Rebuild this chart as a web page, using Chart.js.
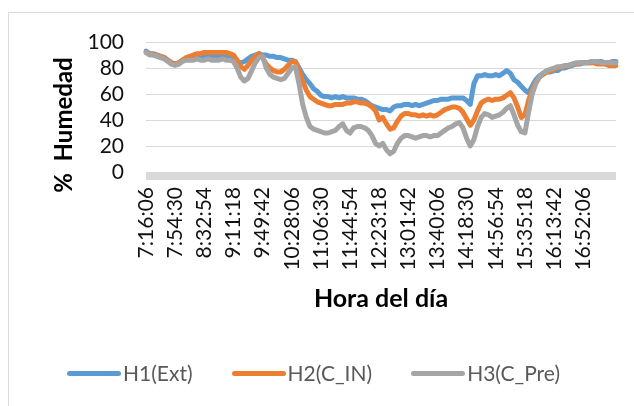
<!DOCTYPE html>
<html lang="es">
<head>
<meta charset="utf-8">
<title>Humedad relativa</title>
<script src="https://cdn.jsdelivr.net/npm/chart.js@4.4.1/dist/chart.umd.min.js"></script>
<style>
  html, body { margin: 0; padding: 0; background: #fff; }
  #wrap { position: relative; width: 634px; height: 406px; overflow: hidden; }
  #frame { position: absolute; left: 8px; top: 12px; width: 700px; height: 500px; border: 1px solid #dcdcdc; }
  #humChart { position: absolute; left: 0; top: 0; }
  #legend { position: absolute; left: 67px; top: 360px; display: flex; gap: 39px;
            font-family: Lato, sans-serif; font-size: 21px; color: #595959; line-height: 26px; }
  .item { display: flex; align-items: center; }
  .swatch { width: 54px; height: 5px; border-radius: 3px; margin-right: 2px; }
</style>
</head>
<body>
<div id="wrap">
  <div id="frame"></div>
  <canvas id="humChart" width="634" height="406"></canvas>
  <div id="legend"></div>
</div>
<script>
// Etiquetas visibles del eje X (cada 38:24)
const tickLabels = ['7:16:06', '7:54:30', '8:32:54', '9:11:18', '9:49:42', '10:28:06', '11:06:30', '11:44:54',
  '12:23:18', '13:01:42', '13:40:06', '14:18:30', '14:56:54', '15:35:18', '16:13:42', '16:52:06'];
const sampleStep = 288; // segundos entre lecturas

const seriesNames = ['H1(Ext)', 'H2(C_IN)', 'H3(C_Pre)'];
const seriesColors = ['#5B9BD5', '#ED7D31', '#A5A5A5'];

// % humedad, sensor exterior
const h1Ext = [93, 91, 91, 90, 89, 88, 86, 84, 83, 84, 86, 87, 88, 88, 89, 89, 89, 88, 89, 88,
  89, 88, 88, 88, 87, 85, 84, 85, 87, 89, 90, 91, 90, 90, 89, 89, 88, 88, 87, 86,
  86, 85, 80, 75, 71, 68, 64, 62, 59, 58, 58, 57, 58, 57, 58, 57, 57, 57, 56, 56,
  55, 53, 51, 50, 49, 48, 48, 47, 50, 51, 51, 52, 52, 51, 52, 51, 52, 53, 54, 55,
  55, 56, 56, 56, 57, 57, 57, 57, 55, 52, 68, 74, 74, 75, 74, 74, 75, 74, 76, 78,
  76, 71, 69, 66, 63, 61, 66, 71, 74, 76, 77, 77, 78, 78, 80, 80, 81, 82, 83, 83,
  84, 84, 84, 85, 85, 85, 84, 84, 85, 85];

// % humedad, cámara interior
const h2CIn = [92, 91, 90, 90, 89, 88, 86, 84, 83, 84, 86, 88, 89, 90, 91, 91, 92, 92, 92, 92,
  92, 92, 92, 91, 90, 86, 81, 79, 82, 86, 89, 91, 88, 83, 80, 78, 77, 77, 79, 82,
  85, 85, 78, 70, 63, 58, 56, 54, 53, 52, 51, 51, 52, 52, 52, 53, 53, 54, 54, 53,
  53, 52, 50, 47, 40, 42, 37, 33, 34, 39, 43, 45, 45, 44, 44, 43, 44, 43, 44, 43,
  44, 46, 48, 49, 50, 50, 49, 46, 41, 36, 40, 47, 53, 55, 56, 55, 56, 56, 57, 59,
  61, 57, 50, 42, 44, 55, 63, 69, 73, 75, 77, 78, 79, 80, 81, 81, 82, 83, 83, 84,
  84, 84, 84, 84, 83, 83, 83, 82, 82, 82];

// % humedad, cámara de preenfriado
const h3CPre = [92, 90, 90, 89, 88, 87, 85, 83, 82, 83, 85, 86, 86, 86, 87, 86, 86, 87, 86, 86,
  86, 87, 86, 86, 85, 80, 73, 70, 72, 78, 84, 88, 89, 80, 75, 73, 72, 71, 72, 76,
  80, 81, 68, 52, 42, 35, 33, 32, 31, 30, 30, 31, 32, 35, 37, 32, 30, 34, 35, 35,
  34, 32, 28, 22, 20, 22, 17, 14, 16, 22, 26, 28, 28, 27, 26, 27, 28, 28, 27, 28,
  28, 30, 32, 34, 35, 37, 38, 34, 26, 20, 25, 35, 42, 45, 44, 42, 43, 44, 46, 49,
  51, 44, 36, 31, 30, 46, 60, 68, 73, 76, 78, 79, 80, 81, 81, 82, 82, 83, 84, 84,
  84, 84, 85, 85, 85, 84, 84, 84, 84, 84];

function toSeconds(t) {
  const [h, m, s] = t.split(':').map(Number);
  return h * 3600 + m * 60 + s;
}
function toClock(sec) {
  const h = Math.floor(sec / 3600);
  const m = Math.floor((sec % 3600) / 60);
  const s = sec % 60;
  return h + ':' + String(m).padStart(2, '0') + ':' + String(s).padStart(2, '0');
}

const start = toSeconds(tickLabels[0]);
const horas = h1Ext.map((_, i) => toClock(start + i * sampleStep));

// franja gris bajo el cero
const baseBand = {
  id: 'baseBand',
  beforeDatasetsDraw(chart) {
    const { ctx, chartArea } = chart;
    ctx.save();
    ctx.fillStyle = '#d9d9d9';
    ctx.fillRect(chartArea.left, chartArea.bottom, chartArea.right - chartArea.left, 8);
    ctx.restore();
  }
};

// título del eje Y, desplazado hacia abajo como en Excel
const yTitle = {
  id: 'yTitle',
  afterDraw(chart) {
    const { ctx, chartArea } = chart;
    ctx.save();
    ctx.translate(chartArea.left - 82, chartArea.bottom - 47);
    ctx.rotate(-Math.PI / 2);
    ctx.font = 'bold 24px Lato';
    ctx.fillStyle = '#000';
    ctx.textAlign = 'center';
    ctx.textBaseline = 'middle';
    ctx.fillText('%  Humedad', 0, 0);
    ctx.restore();
  }
};

const values = [h1Ext, h2CIn, h3CPre];
const datasets = values.map((data, i) => ({
  label: seriesNames[i],
  data: data,
  borderColor: seriesColors[i],
  backgroundColor: seriesColors[i],
  order: 3 - i
}));

const ctx = document.getElementById('humChart').getContext('2d');
new Chart(ctx, {
  type: 'line',
  data: { labels: horas, datasets: datasets },
  options: {
    responsive: false,
    animation: false,
    layout: { padding: { left: 0, right: 18, top: 42, bottom: 88 } },
    elements: {
      point: { radius: 0 },
      line: { borderWidth: 5, tension: 0, borderJoinStyle: 'round', borderCapStyle: 'round' }
    },
    plugins: {
      legend: { display: false },
      tooltip: { enabled: false }
    },
    scales: {
      x: {
        afterFit(scale) { scale.height = 146; },
        grid: { display: false, drawTicks: false },
        border: { display: false },
        ticks: {
          autoSkip: false,
          minRotation: 90,
          maxRotation: 90,
          padding: 15,
          color: '#111',
          font: { family: 'Lato', size: 21 },
          callback: function(value) {
            const label = this.getLabelForValue(value);
            return tickLabels.includes(label) ? label : null;
          }
        },
        title: {
          display: true,
          text: 'Hora del día',
          color: '#000',
          font: { family: 'Lato', size: 25, weight: 'bold' }
        }
      },
      y: {
        min: 0,
        max: 100,
        afterFit(scale) { scale.width = 146; },
        grid: { color: '#d9d9d9', drawTicks: false },
        border: { display: false },
        ticks: {
          stepSize: 20,
          autoSkip: false,
          padding: 22,
          color: '#111',
          font: { family: 'Lato', size: 21 }
        }
      }
    }
  },
  plugins: [baseBand, yTitle]
});

// leyenda inferior
const legend = document.getElementById('legend');
seriesNames.forEach((name, i) => {
  const item = document.createElement('div');
  item.className = 'item';
  const swatch = document.createElement('span');
  swatch.className = 'swatch';
  swatch.style.backgroundColor = seriesColors[i];
  const text = document.createElement('span');
  text.textContent = name;
  item.appendChild(swatch);
  item.appendChild(text);
  legend.appendChild(item);
});
</script>
</body>
</html>
